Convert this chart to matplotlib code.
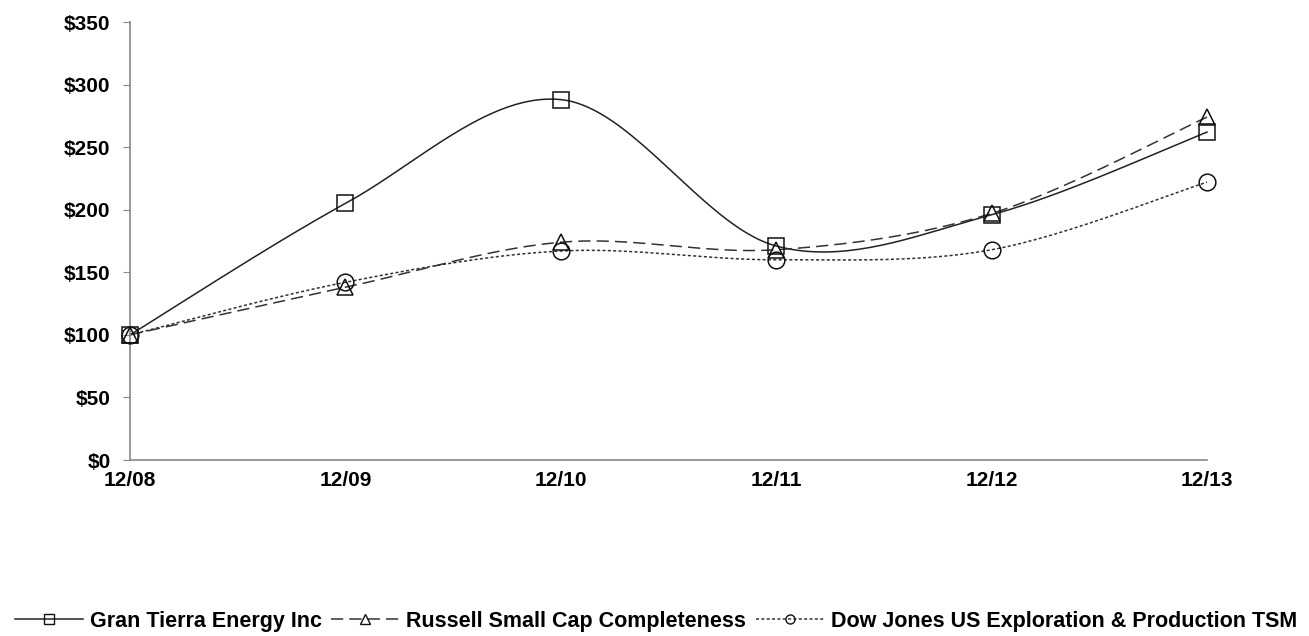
import numpy as np
import matplotlib.pyplot as plt
from matplotlib.ticker import FuncFormatter

periods = ["12/08", "12/09", "12/10", "12/11", "12/12", "12/13"]
gran_tierra = [100, 205, 288, 171, 196, 262]
russell = [100, 138, 174, 168, 197, 274]
dow_jones = [100, 142, 167, 160, 168, 222]

names = ["Gran Tierra Energy Inc", "Russell Small Cap Completeness",
         "Dow Jones US Exploration & Production TSM"]


def smooth(xs, ys, n=40):
    # bezier curve through the points, the way spreadsheet "smoothed lines" look
    xs = np.asarray(xs, float)
    ys = np.asarray(ys, float)
    px = np.concatenate([[xs[0]], xs, [xs[-1]]])
    py = np.concatenate([[ys[0]], ys, [ys[-1]]])
    outx, outy = [], []
    t = np.linspace(0, 1, n)
    for i in range(1, len(px) - 2):
        p0 = np.array([px[i], py[i]])
        p3 = np.array([px[i + 1], py[i + 1]])
        c1 = p0 + (np.array([px[i + 1], py[i + 1]]) - np.array([px[i - 1], py[i - 1]])) / 6
        c2 = p3 - (np.array([px[i + 2], py[i + 2]]) - np.array([px[i], py[i]])) / 6
        b = ((1 - t) ** 3)[:, None] * p0 + (3 * (1 - t) ** 2 * t)[:, None] * c1 \
            + (3 * (1 - t) * t ** 2)[:, None] * c2 + (t ** 3)[:, None] * p3
        outx.extend(b[:, 0])
        outy.extend(b[:, 1])
    return np.array(outx), np.array(outy)


plt.rcParams['font.family'] = ['Liberation Sans', 'DejaVu Sans']
plt.rcParams['font.weight'] = 'bold'

fig = plt.figure(figsize=(13.09, 6.36), dpi=100)
ax = fig.add_axes([130 / 1309, 176 / 636, (1207 - 130) / 1309, (614 - 176) / 636])

x = np.arange(len(periods))
styles = [
    (gran_tierra, '-', 's', '#222222', 12),
    (russell, (0, (8, 4)), '^', '#333333', 11),
    (dow_jones, (0, (2, 1.5)), 'o', '#333333', 12),
]
handles = []
for (vals, ls, mk, col, ms), name in zip(styles, names):
    sx, sy = smooth(x, vals)
    ax.plot(sx, sy, linestyle=ls, color=col, lw=1.1, zorder=2)
    ax.plot(x, vals, linestyle='none', marker=mk, ms=ms, mfc='none',
            mec='#111111', mew=1.1, zorder=3)
    h, = ax.plot([], [], linestyle=ls, color=col, lw=1.1, marker=mk, ms=6.5,
                 mfc='none', mec='#111111', mew=1.0)
    handles.append(h)

ax.set_xlim(0, len(periods) - 1)
ax.set_ylim(0, 350)
ax.set_yticks(range(0, 351, 50))
ax.yaxis.set_major_formatter(FuncFormatter(lambda v, p: f"${v:.0f}"))
ax.set_xticks(x)
ax.set_xticklabels(periods)
ax.tick_params(axis='y', length=5, color='#888888', labelsize=15, pad=9)
ax.tick_params(axis='x', length=0, labelsize=15, pad=8)
for s in ['top', 'right']:
    ax.spines[s].set_visible(False)
for s in ['left', 'bottom']:
    ax.spines[s].set_color('#888888')
    ax.spines[s].set_linewidth(1.2)
for ln in ax.lines:
    ln.set_clip_on(False)

fig.legend(handles=handles, labels=names, loc='center', bbox_to_anchor=(656 / 1309, 15 / 636),
           ncol=3, frameon=False, fontsize=15.5, handlelength=3.15, columnspacing=0.45,
           handletextpad=0.33, borderaxespad=0, borderpad=0)

plt.savefig('out.png', dpi=100)
